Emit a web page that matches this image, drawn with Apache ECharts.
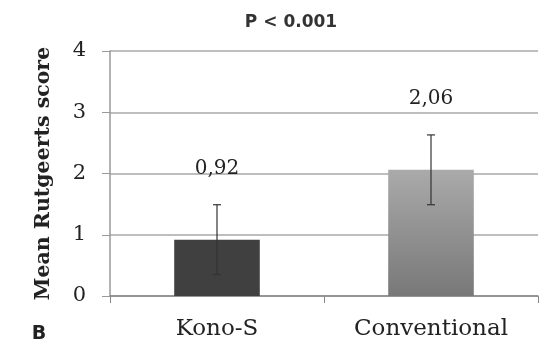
<!DOCTYPE html>
<html><head><meta charset="utf-8">
<script src="https://cdn.jsdelivr.net/npm/echarts@6/dist/echarts.min.js"></script>
<style>html,body{margin:0;padding:0;background:#fff}#c{width:559px;height:348px}</style>
</head><body><div id="c"></div>
<script>
var categories = ['Kono-S', 'Conventional'];
var means = [0.92, 2.06];
var errLow = [0.35, 1.49];
var errHigh = [1.49, 2.63];
var valueLabels = ['0,92', '2,06'];
var yTicks = [0, 1, 2, 3, 4];

var chart = echarts.init(document.getElementById('c'));
var serif = '"DejaVu Serif", "Liberation Serif", serif';
chart.setOption({
  animation: false,
  backgroundColor: '#fff',
  graphic: [{
    type: 'text', x: 291, y: 23,
    style: { text: 'P < 0.001', font: 'bold 17px "DejaVu Sans", sans-serif', fill: '#333', align: 'center', verticalAlign: 'middle' }
  }, {
    type: 'text', x: 39, y: 334,
    style: { text: 'B', font: 'bold 19px "DejaVu Sans", sans-serif', fill: '#222', align: 'center', verticalAlign: 'middle' }
  }],
  grid: { left: 110, right: 21, top: 51, bottom: 52 },
  xAxis: {
    type: 'category', data: categories,
    axisLine: { lineStyle: { color: '#888', width: 1.5 } },
    axisTick: { show: true, length: 7, lineStyle: { color: '#888' } },
    axisLabel: { fontFamily: serif, fontSize: 23, color: '#222', margin: 22 }
  },
  yAxis: {
    type: 'value', min: yTicks[0], max: yTicks[yTicks.length - 1], interval: 1,
    name: 'Mean Rutgeerts score', nameLocation: 'middle', nameGap: 56,
    nameTextStyle: { fontFamily: serif, fontWeight: 'bold', fontSize: 20.5, color: '#222' },
    axisLine: { show: true, lineStyle: { color: '#999', width: 1.5 } },
    axisTick: { show: true, length: 8, lineStyle: { color: '#999' } },
    axisLabel: { fontFamily: serif, fontSize: 21, color: '#222', margin: 24 },
    splitLine: { lineStyle: { color: '#a8a8a8', width: 1.5 } }
  },
  series: [{
    type: 'bar', barWidth: '40%',
    data: means.map(function (v, i) {
      return {
        value: v,
        itemStyle: i === 0 ? { color: '#404040' } : {
          color: new echarts.graphic.LinearGradient(0, 0, 0, 1, [
            { offset: 0, color: '#aaaaaa' }, { offset: 1, color: '#787878' }
          ])
        }
      };
    }),
    label: {
      show: true, position: 'top', distance: 61,
      formatter: function (p) { return valueLabels[p.dataIndex]; },
      fontFamily: serif, fontSize: 20, color: '#222'
    }
  }, {
    type: 'custom',
    data: categories.map(function (c, i) { return [i, errLow[i], errHigh[i]]; }),
    z: 10,
    renderItem: function (params, api) {
      var lo = api.coord([api.value(0), api.value(1)]);
      var hi = api.coord([api.value(0), api.value(2)]);
      var w = 4;
      var st = { stroke: '#333', lineWidth: 1.2 };
      return {
        type: 'group', children: [
          { type: 'line', shape: { x1: hi[0], y1: hi[1], x2: lo[0], y2: lo[1] }, style: st },
          { type: 'line', shape: { x1: hi[0] - w, y1: hi[1], x2: hi[0] + w, y2: hi[1] }, style: st },
          { type: 'line', shape: { x1: lo[0] - w, y1: lo[1], x2: lo[0] + w, y2: lo[1] }, style: st }
        ]
      };
    }
  }]
});
</script></body></html>
